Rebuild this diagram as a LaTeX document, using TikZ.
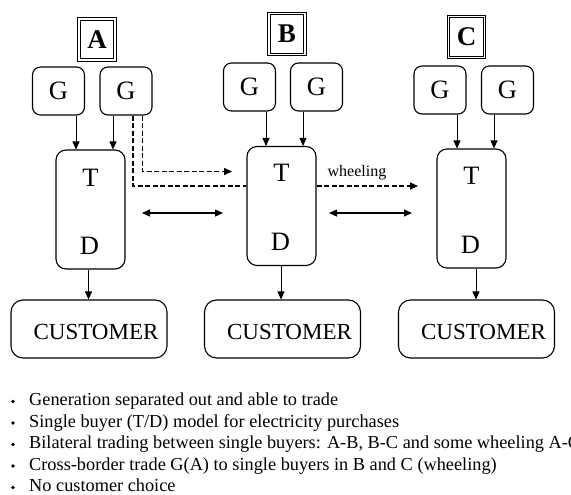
\documentclass[tikz,border=0pt]{standalone}
\usepackage{fontspec}
\setmainfont{Liberation Serif}
\usetikzlibrary{arrows.meta,calc}
\begin{document}
\begin{tikzpicture}[x=1pt,y=-1pt,
  box/.style={draw,line width=1.1pt,rounded corners=8pt,inner sep=0pt},
  gbox/.style={box,minimum width=52pt,minimum height=48pt,font=\fontsize{26.5}{26.5}\selectfont},
  tbox/.style={box,rounded corners=10pt,minimum width=69pt,minimum height=119pt},
  cbox/.style={box,rounded corners=12pt,minimum width=156pt,minimum height=58pt},
  lab/.style={draw,double,line width=0.8pt,double distance=1.6pt,minimum width=36pt,minimum height=41pt,inner sep=0pt,font=\fontsize{27}{27}\selectfont\bfseries},
  big/.style={font=\fontsize{26.5}{26.5}\selectfont,inner sep=0pt},
  cust/.style={font=\fontsize{23}{23}\selectfont,inner sep=0pt},
  tip/.style={-{Triangle[length=8pt,width=7pt]}},
  arr/.style={line width=0.9pt,tip},
  dbl/.style={line width=1.1pt,{Triangle[length=8pt,width=7pt]}-{Triangle[length=8pt,width=7pt]}},
  dsh/.style={line width=1.5pt,dash pattern=on 5pt off 2.5pt},
  bul/.style={anchor=base west,inner sep=0pt,font=\fontsize{18.3}{18.3}\selectfont},
]
\useasboundingbox (0,0) rectangle (571,495);

% region labels
\node[lab] (LA) at (97,39.5) {A};
\node[lab] (LB) at (287,34) {B};
\node[lab] (LC) at (466.5,37) {C};

% generators
\node[gbox] (GA1) at (58.5,91) {G};
\node[gbox] (GA2) at (126,91) {G};
\node[gbox] (GB1) at (249.5,87) {G};
\node[gbox] (GB2) at (316.5,87) {G};
\node[gbox] (GC1) at (440,90) {G};
\node[gbox] (GC2) at (507.5,90) {G};

% T/D boxes
\node[tbox] (TA) at (90.5,209.5) {};
\node[tbox] (TB) at (281.5,206) {};
\node[tbox] (TC) at (471.5,208.5) {};
\node[big] (TAt) at ($(TA.north)+(0,28)$) {T};
\node[big] (TAd) at ($(TA.south)+(-1,-24)$) {D};
\node[big] (TBt) at ($(TB.north)+(0,27)$) {T};
\node[big] (TBd) at ($(TB.south)+(-1,-24)$) {D};
\node[big] (TCt) at ($(TC.north)+(0,27)$) {T};
\node[big] (TCd) at ($(TC.south)+(-1,-24)$) {D};

% customers
\node[cbox] (CA) at (89,329) {};
\node[cbox] (CB) at (282.5,329) {};
\node[cbox] (CC) at (476.5,329) {};
\node[cust] (CAt) at ($(CA.center)+(7,3)$) {CUSTOMER};
\node[cust] (CBt) at ($(CB.center)+(7,3)$) {CUSTOMER};
\node[cust] (CCt) at ($(CC.center)+(7,3)$) {CUSTOMER};

% G -> T arrows
\draw[arr] (GA1.south -| 76,0) -- (TA.north -| 76,0);
\draw[arr] (GA2.south -| 113,0) -- (TA.north -| 113,0);
\draw[arr] (GB1.south -| 266,0) -- (TB.north -| 266,0);
\draw[arr] (GB2.south -| 303,0) -- (TB.north -| 303,0);
\draw[arr] (GC1.south -| 457,0) -- (TC.north -| 457,0);
\draw[arr] (GC2.south -| 494,0) -- (TC.north -| 494,0);

% T -> customer arrows
\draw[arr] (TA.south -| 88.5,0) -- (CA.north -| 88.5,0);
\draw[arr] (TB.south -| 281,0) -- (CB.north -| 281,0);
\draw[arr] (TC.south -| 476,0) -- (CC.north -| 476,0);

% bilateral trading arrows
\coordinate (ab1) at (142,213);
\coordinate (ab2) at (223,213);
\coordinate (bc1) at (329,213);
\coordinate (bc2) at (412,213);
\draw[dbl] (ab1) -- (ab2);
\draw[dbl] (bc1) -- (bc2);

% cross-border dashed lines
\coordinate (dA) at (232,171.5);
\coordinate (wE) at (418,186);
\draw[dsh] (GA2.south -| 133,0) |- (TB.west |- 0,186);
\draw[dsh,tip] (GA2.south -| 142.5,0) |- (dA);
\draw[dsh,tip] (TB.east |- 0,186) -- (wE);
\node[font=\fontsize{16}{16}\selectfont,inner sep=0pt] (wl) at (357,173) {wheeling};

% bullet list
\foreach \yy/\tx in {405.5/{Generation separated out and able to trade},
                     427/{Single buyer (T/D) model for electricity purchases},
                     448.5/{Bilateral trading between single buyers: A-B, B-C and some wheeling A-C},
                     470/{Cross-border trade G(A) to single buyers in B and C (wheeling)},
                     491.5/{No customer choice}}{
  \fill ($(13,\yy)+(0,-4)$) circle (1.8);
  \node[bul] at (29,\yy) {\tx};
}
\end{tikzpicture}
\end{document}
